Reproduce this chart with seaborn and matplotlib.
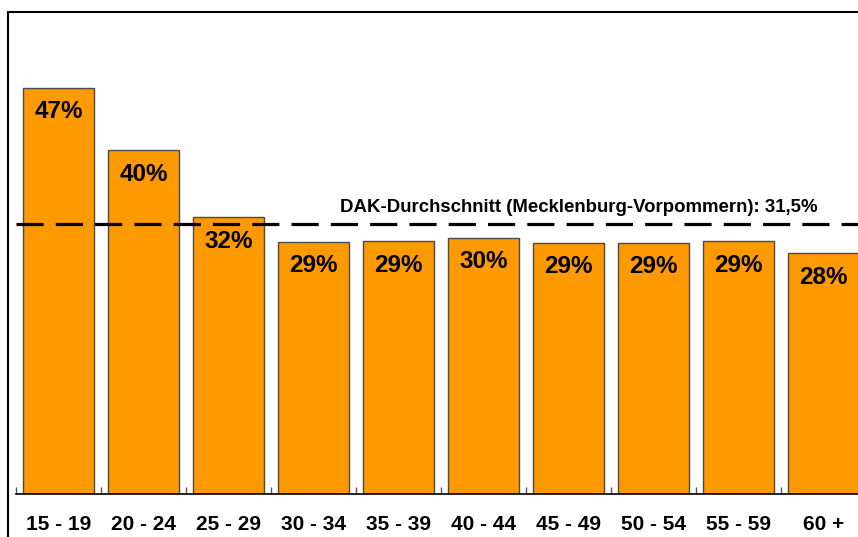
import matplotlib
matplotlib.use("Agg")
import matplotlib.pyplot as plt
import seaborn as sns
from matplotlib.patches import Rectangle

# Age groups and share values (%)
age_groups = ["15 - 19", "20 - 24", "25 - 29", "30 - 34", "35 - 39",
              "40 - 44", "45 - 49", "50 - 54", "55 - 59", "60 +"]
shares = [47.4, 40.1, 32.3, 29.4, 29.5, 29.9, 29.3, 29.3, 29.5, 28.1]
bar_labels = ["47%", "40%", "32%", "29%", "29%", "30%", "29%", "29%", "29%", "28%"]
average = 31.5
average_text = "DAK-Durchschnitt (Mecklenburg-Vorpommern): 31,5%"

sns.set_style("white")
plt.rcParams['font.family'] = ['Liberation Sans', 'DejaVu Sans']
plt.rcParams['text.color'] = 'black'
plt.rcParams['xtick.color'] = 'black'

W, H = 858, 537
fig = plt.figure(figsize=(W / 100, H / 100), dpi=100)
ax = fig.add_axes([16 / W, 43 / H, 850 / W, (494 - 65.4) / H])

sns.barplot(x=age_groups, y=shares, color="#FF9900", saturation=1,
            edgecolor="#4a4a4a", linewidth=1, width=71 / 85, ax=ax)
ax.set_xlim(-0.5, len(age_groups) - 0.5)
ax.set_ylim(0, 50)

# value labels inside the bars
for i, (v, lab) in enumerate(zip(shares, bar_labels)):
    ax.text(i, v - 2.8, lab, ha="center", va="center",
            fontsize=17.5, fontweight="bold", color="black")

# average line
ax.axhline(average, color="black", lw=2.3, ls=(0, (8.5, 3.8)), zorder=5)
ax.text(6.12, average + 0.95, average_text, ha="center", va="bottom",
        fontsize=13.4, fontweight="bold", color="black")

# axes styling
for s in ["left", "top", "right"]:
    ax.spines[s].set_visible(False)
ax.spines["bottom"].set_linewidth(1.2)
ax.spines["bottom"].set_color("black")
ax.set_yticks([])
ax.set_xlabel("")
ax.set_ylabel("")
ax.tick_params(axis="x", which="both", bottom=True)
ax.tick_params(axis="x", which="major", length=0, pad=15, labelcolor="black")
ax.set_xticks([i - 0.5 for i in range(len(age_groups) + 1)], minor=True)
ax.tick_params(axis="x", which="minor", direction="in", length=5,
               width=1, color="#555555")
for t in ax.get_xticklabels():
    t.set_fontsize(15)
    t.set_fontweight("bold")

# outer frame (cropped at right and bottom)
fig.patches.append(Rectangle((8 / W, -0.1), 1.2, 1 - 12 / H + 0.1,
                             transform=fig.transFigure, fill=False,
                             lw=1.5, edgecolor="black", zorder=0))

fig.savefig("out.png", dpi=100)
